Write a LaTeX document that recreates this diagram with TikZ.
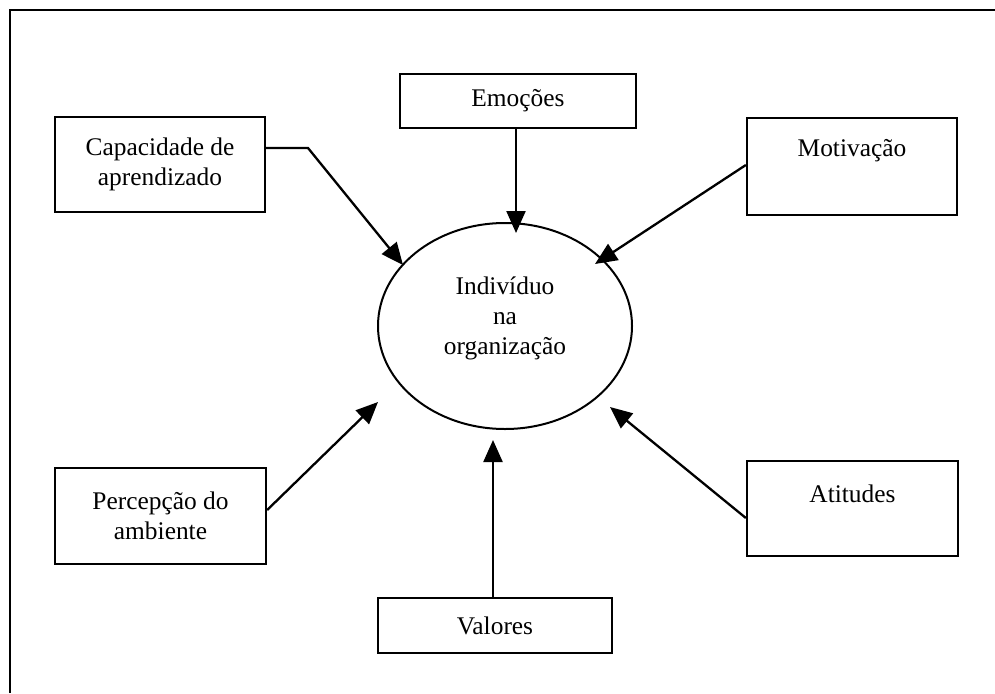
\documentclass[tikz,border=0pt]{standalone}
\usepackage{fontspec}
\setmainfont{Liberation Serif}
\usetikzlibrary{arrows.meta,shapes.geometric}
\begin{document}
\begin{tikzpicture}[x=1pt,y=-1pt,
  every node/.style={font=\fontsize{25.4}{30}\selectfont},
  boxnode/.style={draw,line width=2.3pt,rectangle,align=center,inner sep=0pt},
  arr/.style={line width=2.3pt,-{Triangle[length=22pt,width=19pt]}},
  frameline/.style={line width=2.3pt}]
\useasboundingbox (0,0) rectangle (995,693);
\fill[white] (0,0) rectangle (995,693);
\draw[frameline] (10,693) -- (10,10) -- (995,10);

\node[boxnode,minimum width=210pt,minimum height=95pt] (cap) at (160,164.5) {Capacidade de\\aprendizado};
\node[boxnode,minimum width=236pt,minimum height=54pt] (emo) at (518,101) {Emoções};
\node[boxnode,minimum width=210pt,minimum height=97pt] (mot) at (852,166.5) {Motivação\\[8pt]\mbox{}};
\node[boxnode,minimum width=211pt,minimum height=96pt] (per) at (160.5,516) {Percepção do\\ambiente};
\node[boxnode,minimum width=234pt,minimum height=55pt] (val) at (495,625.5) {Valores};
\node[boxnode,minimum width=211pt,minimum height=95pt] (ati) at (852.5,508.5) {Atitudes\\\mbox{}};

\node[draw,ellipse,line width=2pt,minimum width=254pt,minimum height=206pt,inner sep=0pt] (ind) at (505,326) {};
\node[align=center,inner sep=0pt] (indtxt) at (505,318) {Indivíduo\\na\\organização};

\coordinate (tC) at (403,265);
\coordinate (bC) at (308,148);
\coordinate (tE) at (516,233);
\coordinate (tM) at (595,264);
\coordinate (tP) at (378,402);
\coordinate (tV) at (493,440);
\coordinate (tA) at (610,407);

\draw[arr] ([yshift=16.5pt]cap.east) -- (bC) -- (tC);
\draw[arr] ([xshift=-2pt]emo.south) -- (tE);
\draw[arr] ([yshift=1.5pt]mot.west) -- (tM);
\draw[arr] ([yshift=6pt]per.east) -- (tP);
\draw[arr] ([xshift=-2pt]val.north) -- (tV);
\draw[arr] ([yshift=-9.5pt]ati.west) -- (tA);
\end{tikzpicture}
\end{document}
